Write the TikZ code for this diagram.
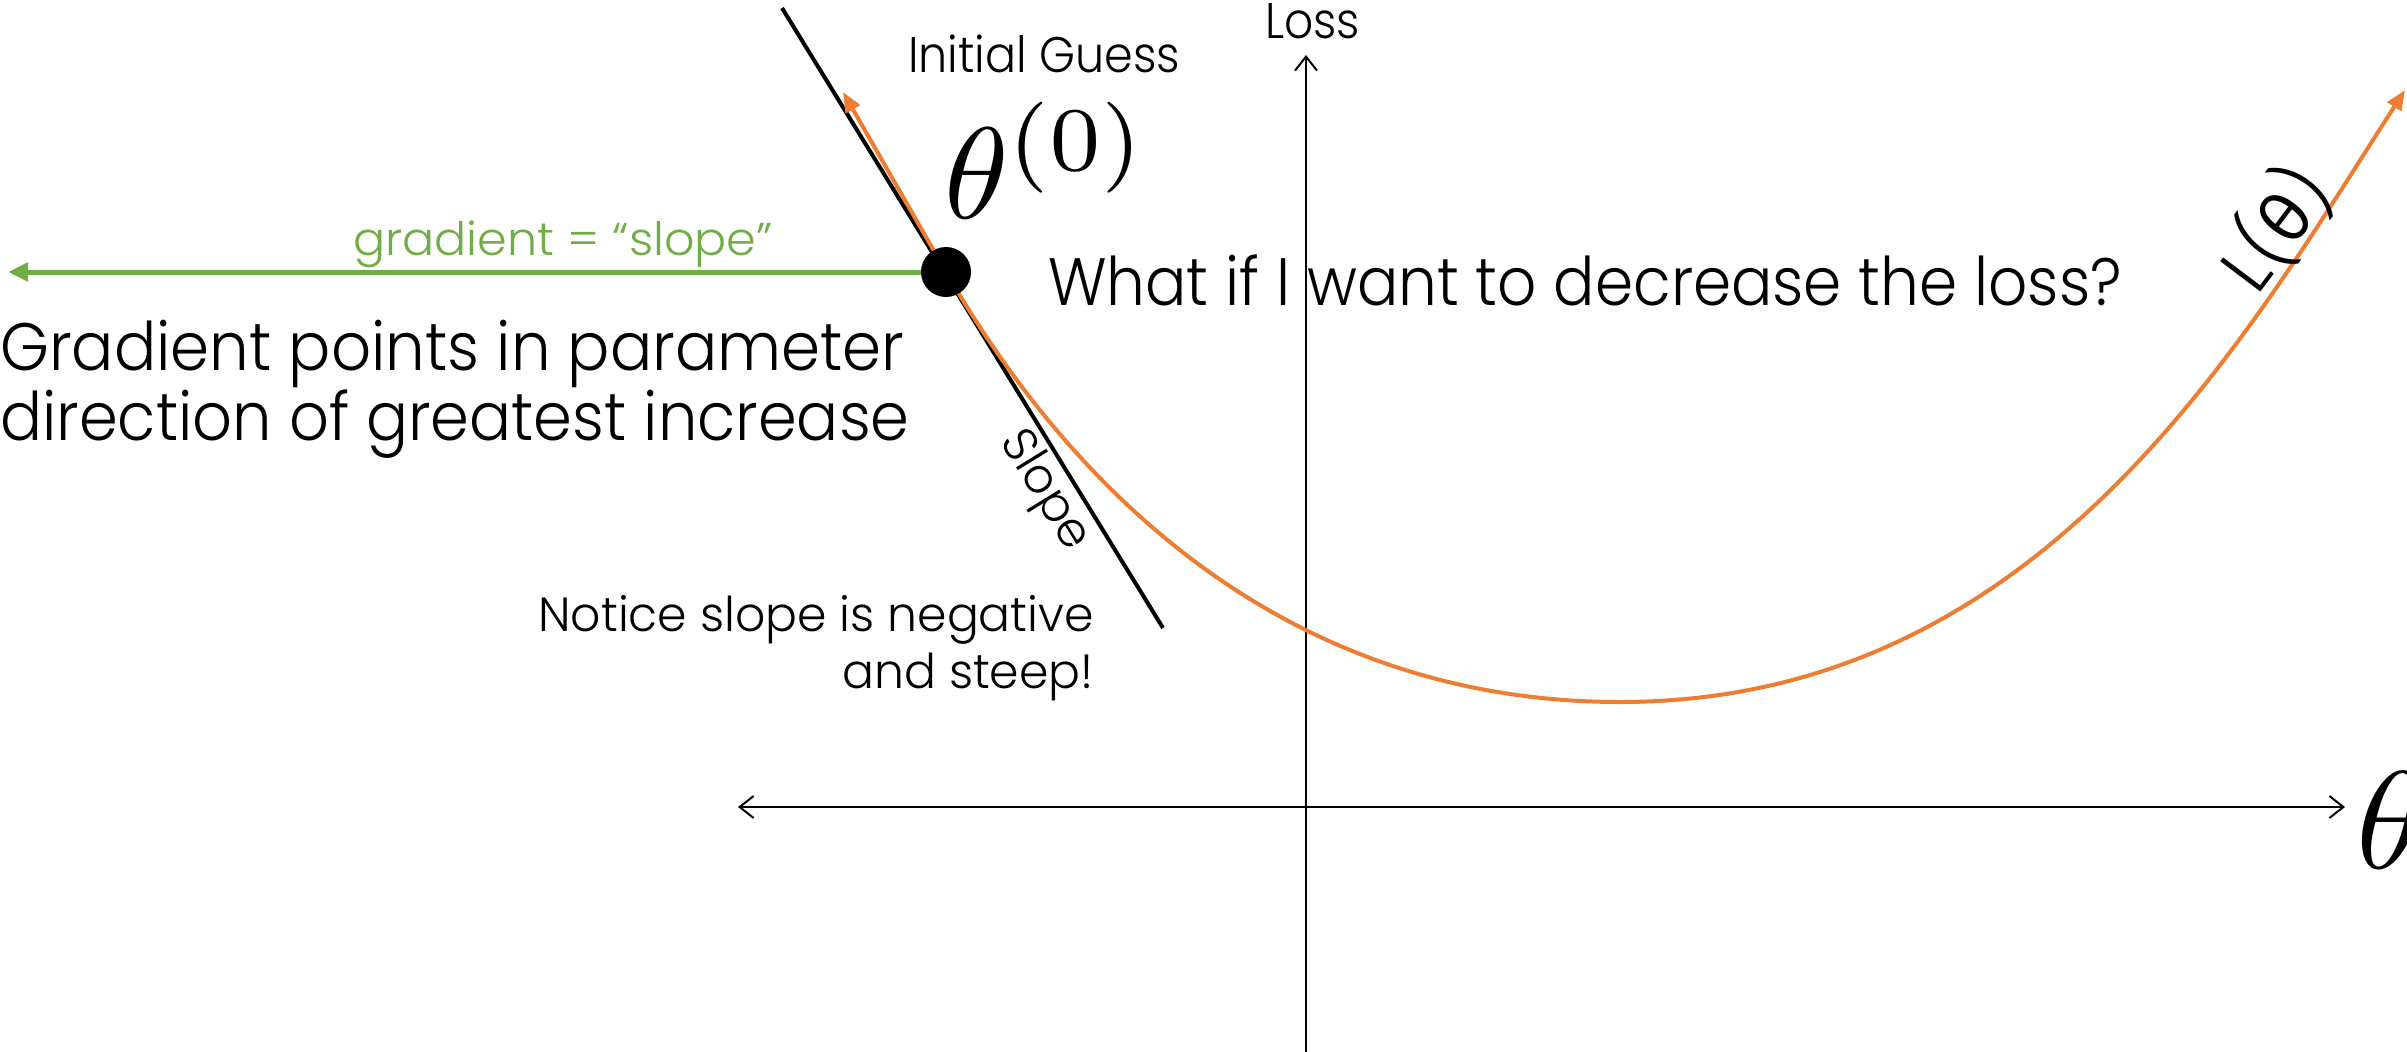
\documentclass[tikz,border=0pt]{standalone}
\usepackage{graphicx}
\usepackage{fontspec}
\setmainfont{Poppins}[UprightFont=* Light]
\newfontfamily\grk{Lato}
\usetikzlibrary{arrows.meta}
\definecolor{orng}{HTML}{ED7D31}
\definecolor{grn}{HTML}{70AD47}
\tikzset{
  axis/.style={line width=2, -{Straight Barb[length=14,width=22,line width=2]}},
  fs/.style={font=\fontsize{#1}{#1}\selectfont, inner sep=0},
}
\newcommand{\sx}[2]{\scalebox{#1}[1]{#2}}
\begin{document}
\begin{tikzpicture}[x=1pt,y=-1pt]
\useasboundingbox (0,0) rectangle (2407,1052);
% axes
\coordinate (xl) at (738,807);
\coordinate (xr) at (2345,807);
\coordinate (yb) at (1306,1052);
\coordinate (yt) at (1306,55);
\draw[line width=2, {Straight Barb[length=14,width=22,line width=2]}-{Straight Barb[length=14,width=22,line width=2]}] (xl) -- (xr);
\draw[axis] (yb) -- (yt);
% tangent line
\coordinate (t1) at (782,8);
\coordinate (t2) at (1163,628);
\draw[line width=4] (t1) -- (t2);
% curve
\coordinate (o1) at (843,92);
\coordinate (bc) at (946,272);
\coordinate (omin) at (1620,702);
\coordinate (o2) at (2405,90);
\draw[orng, line width=4, {Triangle[length=20,width=16]}-{Triangle[length=20,width=16]}]
  (o1) -- (bc) .. controls (1096,531) and (1320,702) .. (omin)
  .. controls (2040,702) and (2243,342) .. (o2);
% ball
\node[circle, fill=black, minimum size=50, inner sep=0] (ball) at (bc) {};
% green gradient arrow
\coordinate (gt) at (8,272);
\draw[grn, line width=5, -{Triangle[length=20,width=18]}] (ball.west) -- (gt);
% labels
\node[fs=50, anchor=base west] (loss) at (1265,38) {\sx{0.91}{Loss}};
\node[fs=50, anchor=base west] (ig) at (908,72) {\sx{0.92}{Initial Guess}};
\node[fs=10, anchor=base west] (th0) at (944,218) {\scalebox{13}{$\theta^{(0)}$}};
\node[fs=10, anchor=base west] (thx) at (2356,868) {\scalebox{13.9}{$\theta$}};
\node[fs=46, anchor=base west, text=grn] (gl) at (353,255) {\sx{1.035}{gradient = “slope”}};
\node[fs=67, anchor=base west] (q) at (1048,305) {\sx{0.915}{What if I want to decrease the loss?}};
\node[fs=67, anchor=base west] (gp1) at (0,370) {\sx{0.935}{Gradient points in parameter}};
\node[fs=67, anchor=base west] (gp2) at (0,440) {\sx{0.93}{direction of greatest increase}};
\node[fs=48, anchor=base east] (n1) at (1094,631) {\sx{0.985}{Notice slope is negative}};
\node[fs=48, anchor=base east] (n2) at (1094,688) {\sx{0.985}{and steep!}};
\node[fs=48, rotate=-58.4] (sl) at (1044,491) {Slope};
\node[fs=72, rotate=53] (lt) at (2275,228) {\sx{0.97}{L({\grk θ})}};
\end{tikzpicture}
\end{document}
